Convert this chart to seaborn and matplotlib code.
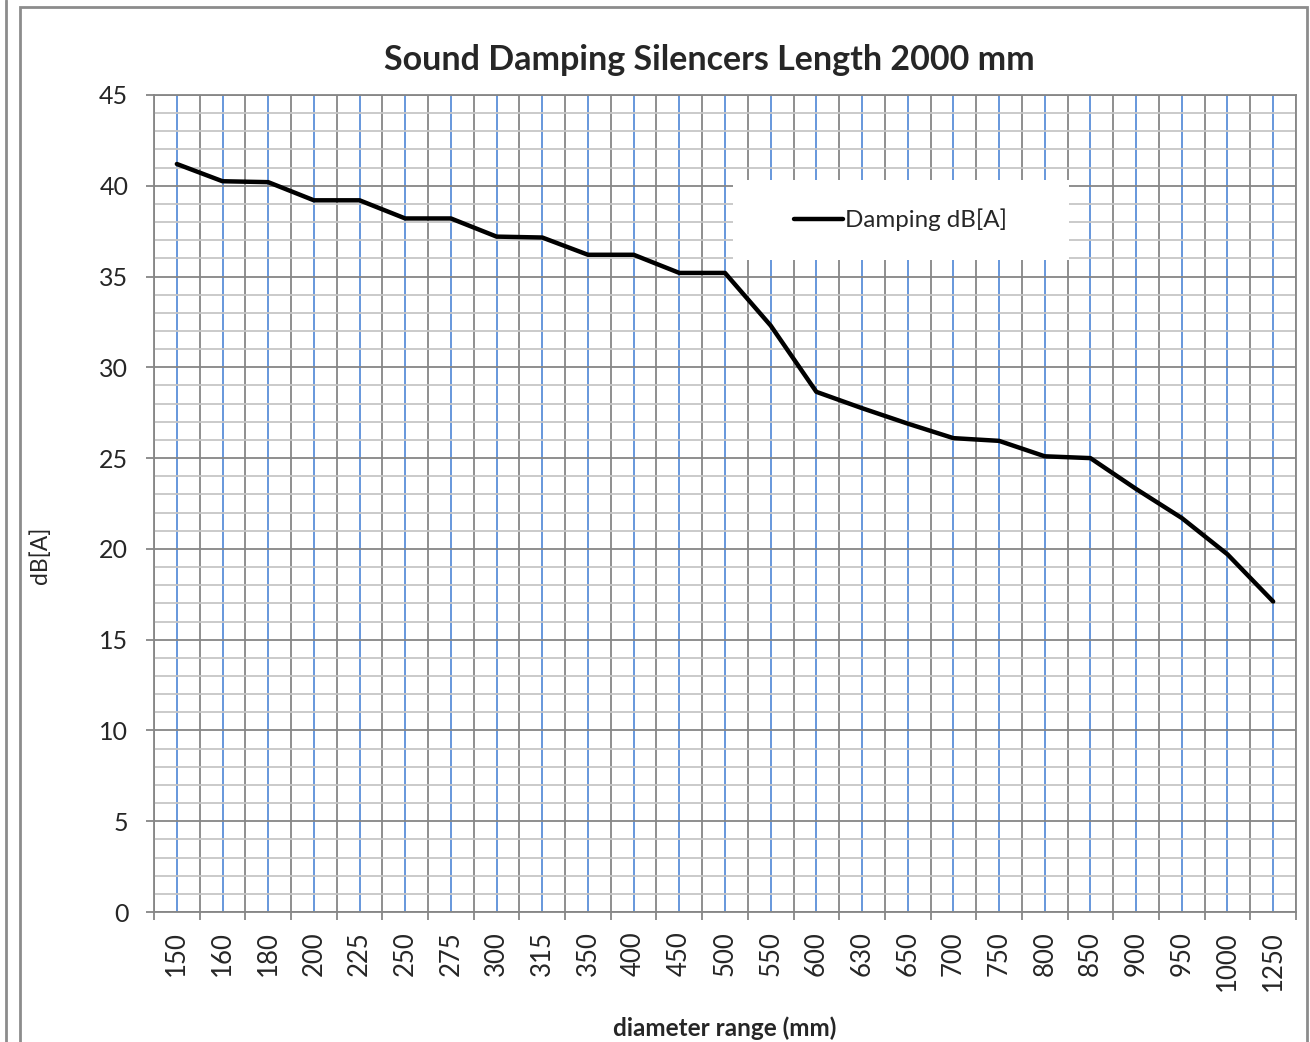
import numpy as np
import pandas as pd
import seaborn as sns
import matplotlib.pyplot as plt
from matplotlib.patches import Rectangle
from matplotlib.ticker import MultipleLocator, FixedLocator

diameters = ['150', '160', '180', '200', '225', '250', '275', '300', '315', '350',
             '400', '450', '500', '550', '600', '630', '650', '700', '750', '800',
             '850', '900', '950', '1000', '1250']
damping = [41.2, 40.25, 40.2, 39.2, 39.2, 38.2, 38.2, 37.2, 37.15, 36.2,
           36.2, 35.2, 35.2, 32.3, 28.65, 27.75, 26.9, 26.1, 25.95, 25.1,
           25.0, 23.3, 21.7, 19.7, 17.1]

sns.set_style("white")
plt.rcParams['font.family'] = ['Lato', 'DejaVu Sans']

df = pd.DataFrame({'diameter': diameters, 'damping': damping})

fig = plt.figure(figsize=(13.1, 10.42), dpi=100)
ax = fig.add_axes([154/1310, 1 - 912/1042, (1296 - 154)/1310, (912 - 95)/1042])

dark = '#868686'
light = '#c6c6c6'
blue = '#5b8fd9'

sns.lineplot(data=df, x='diameter', y='damping', sort=False, color='black',
             linewidth=3.2, ax=ax, label='Damping dB[A]', zorder=5)

n = len(diameters)
ax.set_xlim(-0.5, n - 0.5)
ax.set_ylim(0, 45)

# x: boundaries as major (ticks + dark grid), centers as minor (labels + blue grid)
ax.xaxis.set_major_locator(FixedLocator(np.arange(n + 1) - 0.5))
ax.xaxis.set_minor_locator(FixedLocator(np.arange(n)))
ax.set_xticklabels([''] * (n + 1))
ax.set_xticklabels(diameters, minor=True, rotation=90)
ax.tick_params(axis='x', which='major', direction='out', length=6, width=1.3,
               color=dark, bottom=True)
ax.tick_params(axis='x', which='minor', length=0, pad=14, labelsize=18.5)

ax.yaxis.set_major_locator(MultipleLocator(5))
ax.yaxis.set_minor_locator(MultipleLocator(1))
ax.tick_params(axis='y', which='major', direction='out', length=5.5, width=1.3,
               color=dark, left=True, pad=13, labelsize=18)
ax.tick_params(axis='y', which='minor', length=0)

ax.grid(True, axis='x', which='major', color=dark, linewidth=1.3, zorder=1)
ax.grid(True, axis='x', which='minor', color=blue, linewidth=1.3, zorder=1)
ax.grid(True, axis='y', which='major', color=dark, linewidth=1.3, zorder=1)
ax.grid(True, axis='y', which='minor', color=light, linewidth=1.3, zorder=1)
ax.set_axisbelow(True)

for s in ax.spines.values():
    s.set_color(dark)
    s.set_linewidth(1.3)

ax.set_xlabel('')
ax.set_ylabel('')

# legend box
ax.add_patch(Rectangle((0.507, 0.798), 0.294, 0.098, transform=ax.transAxes,
                       facecolor='white', edgecolor='none', zorder=4))
ax.legend(loc='center', bbox_to_anchor=(0.654, 0.847), frameon=False,
          fontsize=17.4, handlelength=2.0, handletextpad=0.1)

fig.text(709/1310, 1 - 60/1042, 'Sound Damping Silencers Length 2000 mm',
         ha='center', va='center', fontsize=24.5, fontweight='bold')
fig.text(725/1310, 1 - 1028/1042, 'diameter range (mm)', ha='center', va='center',
         fontsize=17.5, fontweight='bold')
fig.text(40/1310, 1 - 555/1042, 'dB[A]', ha='center', va='center', rotation=90,
         fontsize=16.5)

# chart frames
fig.add_artist(Rectangle((20/1310, -0.02), (1307 - 20)/1310, 1.02 - 7/1042,
                         transform=fig.transFigure, fill=False, edgecolor='#8c8c8c',
                         linewidth=2))
fig.add_artist(plt.Line2D([6/1310, 6/1310], [0, 1], transform=fig.transFigure,
                          color='#8c8c8c', linewidth=2))

fig.savefig('out.png', dpi=100)
